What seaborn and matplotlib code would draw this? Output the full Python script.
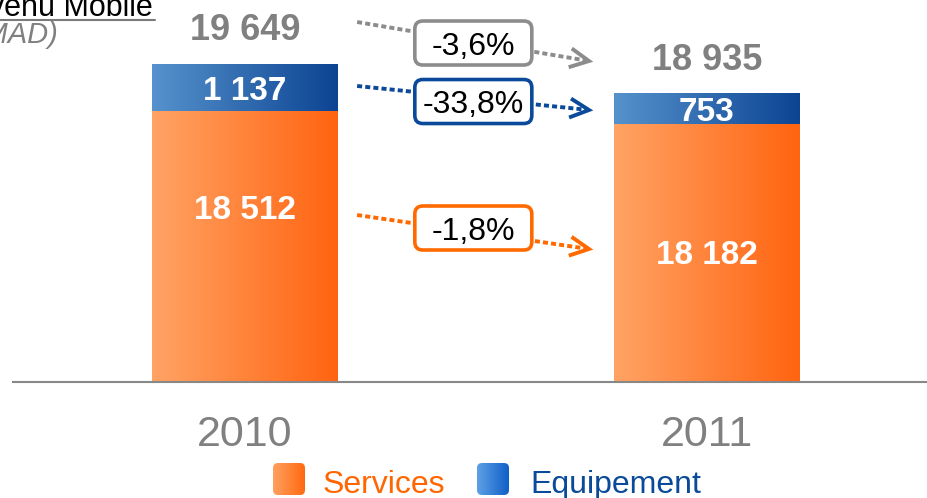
import numpy as np
import pandas as pd
import matplotlib
matplotlib.use("Agg")
import matplotlib.pyplot as plt
import seaborn as sns
from matplotlib.colors import LinearSegmentedColormap
from matplotlib.patches import FancyBboxPatch

# ---------------- data ----------------
years = ["2010", "2011"]
services = [18512, 18182]
equipement = [1137, 753]
series_names = ["Services", "Equipement"]
title_line1 = "Revenu Mobile"
title_line2 = "(en millions de MAD)"

# ---------------- positions / styles (not data) ----------------
services_label_pos = [15890, 14790]          # y position of the services value labels
arrow_x = [0.243, 0.745]                     # arrow start / end (data x)
box_x = 0.4946
arrow_total_y = [20690, 19739, 20178]        # start, end, box centre
arrow_equip_y = [19130, 18544, 18751]
arrow_serv_y = [15983, 15154, 15666]

ORANGE_L, ORANGE_R = "#FFA365", "#FF6410"
BLUE_L, BLUE_R = "#5692CC", "#0C4493"
GRAY = "#808080"
C_GRAY_ARROW = "#8C8C8C"
C_BLUE_ARROW = "#0B4A9B"
C_ORANGE_ARROW = "#FF6A00"

sns.set_theme(style="white")
plt.rcParams["font.family"] = ["Liberation Sans", "DejaVu Sans"]

W, H = 928, 498
fig = plt.figure(figsize=(W / 100, H / 100), dpi=100)
ax = fig.add_axes([13 / W, (H - 382) / H, (W - 13) / W, 382 / H])

df = pd.DataFrame({"year": years, "services": services, "equipement": equipement})
df["total"] = df["services"] + df["equipement"]

bw = 0.4026
sns.barplot(data=df, x="year", y="total", color=BLUE_R, width=bw, saturation=1, ax=ax)
sns.barplot(data=df, x="year", y="services", color=ORANGE_R, width=bw, saturation=1, ax=ax)

grad = np.linspace(0, 1, 256).reshape(1, -1)
cm_blue = LinearSegmentedColormap.from_list("b", [BLUE_L, BLUE_R])
cm_orng = LinearSegmentedColormap.from_list("o", [ORANGE_L, ORANGE_R])
for k, p in enumerate(ax.patches):
    cm = cm_blue if k < 2 else cm_orng
    x0, y0, w, h = p.get_x(), p.get_y(), p.get_width(), p.get_height()
    ax.imshow(grad, cmap=cm, extent=[x0, x0 + w, y0, y0 + h], aspect="auto",
              zorder=2 + (k >= 2), interpolation="bicubic")
    p.set_visible(False)

ax.set_xlim(-0.502, 1.479)
ax.set_ylim(11910, 21227)
ax.set_yticks([])
ax.set_xlabel("")
ax.set_ylabel("")
for s in ["left", "right", "top"]:
    ax.spines[s].set_visible(False)
ax.spines["bottom"].set_color("#888888")
ax.spines["bottom"].set_linewidth(1.5)
ax.spines["bottom"].set_zorder(5)
ax.tick_params(axis="x", length=0, pad=23.8, labelsize=31, labelcolor=GRAY)
ax.set_facecolor("none")

def fmt(v):
    return f"{v:,}".replace(",", " ")

# value labels
for i in range(len(years)):
    tot = df["total"][i]
    ax.annotate(fmt(tot), xy=(i, tot), xytext=(0, 17.6), textcoords="offset points",
                ha="center", va="baseline", fontsize=26, weight="bold", color=GRAY, zorder=6)
    ax.annotate(fmt(equipement[i]), xy=(i, services[i] + equipement[i] / 2), xytext=(0, -8.6),
                textcoords="offset points", ha="center", va="baseline", fontsize=24,
                weight="bold", color="white", zorder=6)
    ax.annotate(fmt(services[i]), xy=(i, services_label_pos[i]), ha="center", va="baseline",
                fontsize=24, weight="bold", color="white", zorder=6)

# overlay in pixel coordinates
ov = fig.add_axes([0, 0, 1, 1])
ov.set_xlim(0, W)
ov.set_ylim(0, H)
ov.axis("off")
ov.set_facecolor("none")

def pct(a, b):
    return f"{(b / a - 1) * 100:.1f}%".replace(".", ",")

tot = list(df["total"])
arrows = [
    (arrow_total_y, C_GRAY_ARROW, pct(tot[0], tot[1])),
    (arrow_equip_y, C_BLUE_ARROW, pct(equipement[0], equipement[1])),
    (arrow_serv_y, C_ORANGE_ARROW, pct(services[0], services[1])),
]
for (ys, col, txt) in arrows:
    p0 = ax.transData.transform((arrow_x[0], ys[0]))
    p1 = ax.transData.transform((arrow_x[1], ys[1]))
    d = (p1 - p0) / np.linalg.norm(p1 - p0)
    n = np.array([-d[1], d[0]])
    end = p1 - d * 3
    ov.plot([p0[0], end[0]], [p0[1], end[1]], color=col, lw=2.8,
            linestyle=(0, (1.3, 0.8)), dash_capstyle="butt", zorder=3)
    a1 = p1 - d * 19 + n * 9.5
    a2 = p1 - d * 19 - n * 9.5
    ov.plot([a1[0], p1[0], a2[0]], [a1[1], p1[1], a2[1]], color=col, lw=2.8,
            solid_joinstyle="miter", solid_capstyle="butt", zorder=3)
    bc = ax.transData.transform((box_x, ys[2]))
    box = FancyBboxPatch((bc[0] - 58.5, bc[1] - 22), 117, 44,
                         boxstyle="round,pad=0,rounding_size=8", fc="white", ec=col,
                         lw=2.6, zorder=5)
    ov.add_patch(box)
    ov.text(bc[0], bc[1] - 11.5, txt, ha="center", va="baseline", fontsize=23,
            color="black", zorder=6)

# title (cropped at the left edge)
ov.text(153, H - 15.7, title_line1, ha="right", va="baseline", fontsize=22, color="black")
ov.plot([0, 155], [H - 20, H - 20], color="#7a7a7a", lw=1.5)
ov.text(58, H - 43, title_line2, ha="right", va="baseline", fontsize=21, color=GRAY,
        style="italic")

# legend
leg_items = [
    (273, series_names[0], "#FFA060", "#FF6A10", "#FF6600", 323),
    (477, series_names[1], "#5FA0E6", "#1060C8", "#0A4A9A", 530),
]
for (x0, name, cl, cr, tc, tx) in leg_items:
    y0 = H - 495
    sq = FancyBboxPatch((x0, y0), 32, 32, boxstyle="round,pad=0,rounding_size=5",
                        fc="none", ec="none")
    ov.add_patch(sq)
    im = ov.imshow(grad, cmap=LinearSegmentedColormap.from_list("l", [cl, cr]),
                   extent=[x0, x0 + 32, y0, y0 + 32], aspect="auto", zorder=4)
    im.set_clip_path(sq)
    ov.text(tx, H - 493, name, ha="left", va="baseline", fontsize=23, color=tc)

ov.set_xlim(0, W)
ov.set_ylim(0, H)
fig.savefig("out.png", dpi=100)
